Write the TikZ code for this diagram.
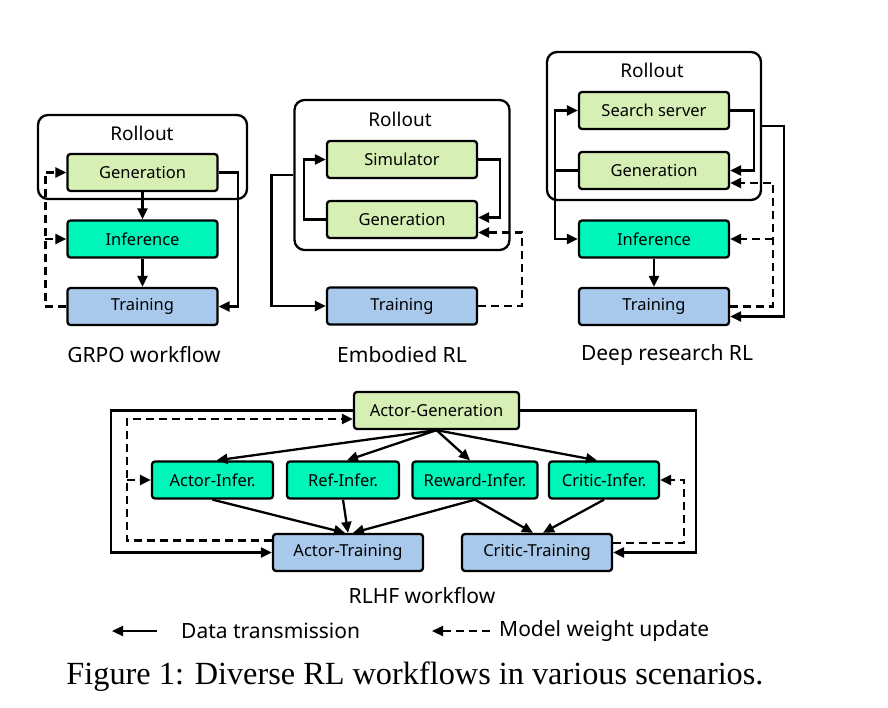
\documentclass[tikz,border=0pt]{standalone}
\usepackage{fontspec}
\usepackage{tikz}
\usetikzlibrary{arrows.meta,calc}
\setmainfont{Liberation Serif}
\newfontfamily\diafont{Noto Sans}
\definecolor{figline}{RGB}{0,0,0}
\definecolor{figgen}{RGB}{214,239,181}
\definecolor{figinf}{RGB}{0,245,185}
\definecolor{figtrn}{RGB}{168,201,235}
\tikzset{
  bx/.style  ={draw=figline, line width=2.3pt, rounded corners=3pt, minimum height=37pt, minimum width=150pt, inner sep=0pt, font=\diafont\fontsize{16.5}{18}\selectfont},
  gbx/.style ={bx, fill=figgen},
  ibx/.style ={bx, fill=figinf},
  tbx/.style ={bx, fill=figtrn},
  roll/.style={draw=figline, line width=2.3pt, rounded corners=10pt, inner sep=0pt},
  lab/.style ={font=\diafont\fontsize{21}{23}\selectfont, inner sep=1pt},
  labr/.style={font=\diafont\fontsize{19}{21}\selectfont, inner sep=1pt},
  dat/.style ={draw=figline, line width=2.3pt, -{Triangle[length=11pt,width=10pt]}},
  upd/.style ={dat, dash pattern=on 8pt off 5pt},
}

\begin{document}
\begin{tikzpicture}[x=1pt,y=-1pt]
  \useasboundingbox (0,0) rectangle (888,708);
  % GRPO
  \node[roll, minimum width=209pt, minimum height=84pt] (gRoll) at (142.5,157) {};
  \node[labr] (gRollT) at (142,133) {Rollout};
  \node[gbx] (gGen) at (142.5,172.5) {Generation};
  \node[ibx] (gInf) at (142.5,239) {Inference};
  \node[tbx] (gTrn) at (142.5,306.5) {Training};
  \draw[dat] (gGen) -- (gInf);
  \draw[dat] (gInf) -- (gTrn);
  \draw[dat] (gGen.east) -- ++(19,0) |- (gTrn.east);
  \draw[upd] (gTrn.west) -- ++(-21,0) coordinate (gW) |- (gGen.west);
  \draw[upd] (gInf.west -| gW) -- (gInf.west);
  \node[lab] (gCap) at (144,355) {GRPO workflow};
  % Embodied RL
  \node[roll, minimum width=215pt, minimum height=150pt] (eRoll) at (402,175) {};
  \node[labr] (eRollT) at (400,119) {Rollout};
  \node[gbx] (eSim) at (402,159.5) {Simulator};
  \node[gbx] (eGen) at (402,219.5) {Generation};
  \node[tbx] (eTrn) at (402,306) {Training};
  \draw[dat] (eSim.east) -- ++(22,0) |- ($(eGen.east)+(0,-2)$);
  \draw[dat] (eGen.west) -- ++(-22,0) |- (eSim.west);
  \draw[dat] (eRoll.west) -- ++(-22,0) |- (eTrn.west);
  \draw[upd] (eTrn.east) -- ++(44,0) |- ($(eGen.east)+(0,13)$);
  \node[lab] (eCap) at (402,355) {Embodied RL};
  % Deep research RL
  \node[roll, minimum width=214pt, minimum height=148pt] (dRoll) at (654,126) {};
  \node[labr] (dRollT) at (652,70) {Rollout};
  \node[gbx] (dSrch) at (654,110.5) {Search server};
  \node[gbx] (dGen) at (654,170.5) {Generation};
  \node[ibx] (dInf) at (654,239) {Inference};
  \node[tbx] (dTrn) at (654,306.5) {Training};
  \draw[dat] (dSrch.east) -- ++(24,0) |- (dGen.east);
  \draw[dat] (dGen.west) -- ++(-23,0) |- (dSrch.west);
  \draw[dat] (dGen.west) -- ++(-23,0) |- (dInf.west);
  \draw[dat] (dInf) -- (dTrn);
  \draw[dat] (dRoll.east) -- ++(22,0) |- ($(dTrn.east)+(0,10)$);
  \draw[upd] (dTrn.east) -- ++(43,0) coordinate (dR) |- ($(dGen.east)+(0,12.5)$);
  \draw[upd] (dInf.east -| dR) -- (dInf.east);
  \node[lab] (dCap) at (667,355) {Deep research RL};
  % RLHF
  \node[gbx, minimum width=165pt] (rGen) at (436.5,410.5) {Actor-Generation};
  \node[ibx, minimum width=121pt] (rAI) at (212.5,480) {Actor-Infer.};
  \node[ibx, minimum width=112pt] (rRI) at (343,480) {Ref-Infer.};
  \node[ibx, minimum width=125pt] (rWI) at (475,480) {Reward-Infer.};
  \node[ibx, minimum width=110pt] (rCI) at (604,480) {Critic-Infer.};
  \node[tbx] (rAT) at (348,552.5) {Actor-Training};
  \node[tbx] (rCT) at (537,552.5) {Critic-Training};
  \draw[dat] (rGen.south) -- ($(rAI.north)+(4,0)$);
  \draw[dat] (rGen.south) -- ($(rRI.north)+(4,0)$);
  \draw[dat] (rGen.south) -- ($(rWI.north)+(-5,0)$);
  \draw[dat] (rGen.south) -- ($(rCI.north)+(-7,0)$);
  \draw[dat] (rAI.south) -- ($(rAT.north)+(-3,0)$);
  \draw[dat] (rRI.south) -- (rAT.north);
  \draw[dat] (rWI.south) -- ($(rAT.north)+(5,0)$);
  \draw[dat] (rWI.south) -- ($(rCT.north)+(-4,0)$);
  \draw[dat] (rCI.south) -- ($(rCT.north)+(6,0)$);
  \draw[dat] (rGen.west) -- ++(-242,0) |- (rAT.west);
  \draw[dat] (rGen.east) -- ++(176,0) |- (rCT.east);
  \draw[upd] ($(rAT.west)+(0,-12)$) -- ++(-145,0) coordinate (rW) |- ($(rGen.west)+(0,8.5)$);
  \draw[upd] (rAI.west -| rW) -- (rAI.west);
  \draw[upd] ($(rCT.east)+(0,-9.5)$) -- ++(71,0) |- (rCI.east);
  \node[lab] (rCap) at (422,596) {RLHF workflow};
  % legend
  \coordinate (lgA) at (157,631);
  \coordinate (lgB) at (112,631);
  \draw[dat] (lgA) -- (lgB);
  \node[lab, anchor=west] (lgAT) at (180,631) {Data transmission};
  \coordinate (lgC) at (490,631);
  \coordinate (lgD) at (432,631);
  \draw[upd] (lgC) -- (lgD);
  \node[lab, anchor=west] (lgCT) at (498,631) {Model weight update};
  \node[font=\fontsize{32.3}{35}\selectfont, inner sep=0pt] (fig) at (415,677) {Figure 1: Diverse RL workflows in various scenarios.};
\end{tikzpicture}
\end{document}
